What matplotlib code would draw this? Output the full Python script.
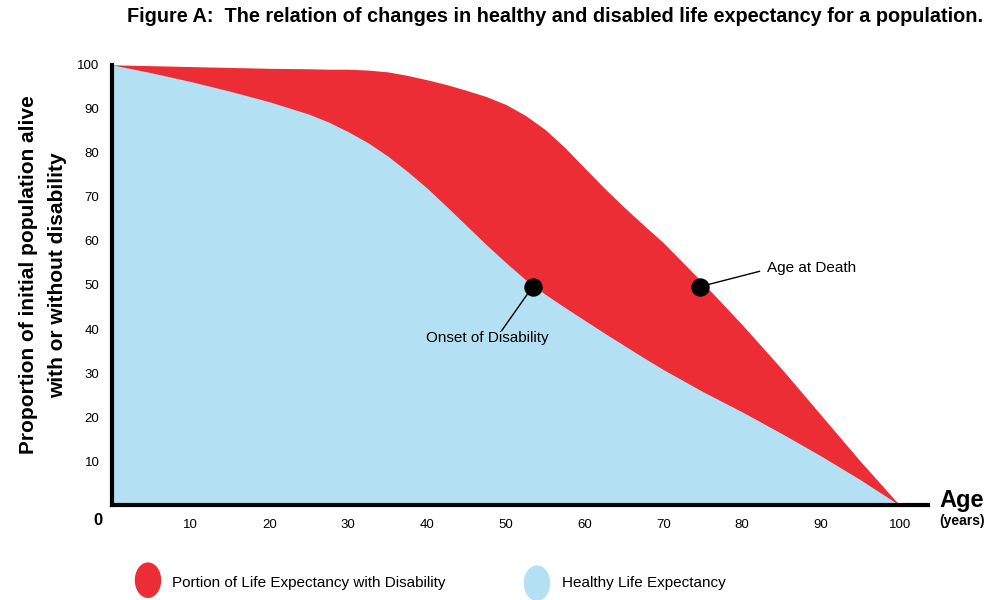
import matplotlib.pyplot as plt
from matplotlib.patches import Ellipse

plt.rcParams['font.family'] = ['Liberation Sans', 'DejaVu Sans']

# ages (years) and the two survival curves (% of initial population)
age = [0, 5, 10, 15, 20, 25, 27.5, 30, 32.5, 35, 37.5, 40, 42.5, 45, 47.5, 50, 52.5, 55,
       57.5, 60, 62.5, 65, 67.5, 70, 75, 80, 85, 90, 95, 100]
alive = [100, 99.8, 99.6, 99.4, 99.2, 99.1, 99.0, 99.0, 98.8, 98.4, 97.6, 96.6, 95.5, 94.2, 92.8, 91.0, 88.5, 85.3,
         81.2, 76.6, 72.0, 67.7, 63.6, 59.6, 50.5, 41.0, 31.0, 20.5, 10.0, 0]
healthy = [100, 98.2, 96.2, 94.0, 91.6, 88.8, 87.0, 84.8, 82.3, 79.3, 75.8, 72.0, 67.8, 63.5, 59.2, 55.1, 51.2, 47.9,
           44.9, 42.0, 39.1, 36.3, 33.5, 30.8, 25.8, 21.2, 16.3, 11.2, 5.8, 0]

xticks = [10, 20, 30, 40, 50, 60, 70, 80, 90, 100]
yticks = [10, 20, 30, 40, 50, 60, 70, 80, 90, 100]

onset = (53.4, 49.6)
death = (74.6, 49.6)

red = '#ED2D35'
blue = '#B3E0F2'

fig = plt.figure(figsize=(10, 6), dpi=100)
ax = fig.add_axes([0.112, 0.158, 0.816, 0.734])

ax.fill_between(age, 0, alive, color=red, linewidth=0)
ax.fill_between(age, 0, healthy, color=blue, linewidth=0)

ax.set_xlim(0, 103.6)
ax.set_ylim(0, 100)
for s in ['top', 'right']:
    ax.spines[s].set_visible(False)
for s in ['left', 'bottom']:
    ax.spines[s].set_linewidth(3)
    ax.spines[s].set_zorder(5)

ax.set_xticks(xticks)
ax.set_yticks(yticks)
ax.tick_params(length=0, labelsize=9.5, pad=10)
ax.tick_params(axis='y', pad=9)

# points and callouts
ax.scatter(*onset, s=150, color='black', zorder=6)
ax.scatter(*death, s=150, color='black', zorder=6)
ax.plot([onset[0], 49.5], [onset[1], 39.7], color='black', lw=1, zorder=6)
ax.plot([death[0], 82.2], [death[1], 53.1], color='black', lw=1, zorder=6)
ax.text(47.6, 37.9, 'Onset of Disability', fontsize=11, ha='center', va='center')
ax.text(83.2, 53.9, 'Age at Death', fontsize=11, ha='left', va='center')

# titles and axis labels
fig.text(0.555, 0.973, 'Figure A:  The relation of changes in healthy and disabled life expectancy for a population.',
         fontsize=14.3, fontweight='bold', ha='center', va='center')
fig.text(0.029, 0.542, 'Proportion of initial population alive', rotation=90,
         fontsize=15, fontweight='bold', ha='center', va='center')
fig.text(0.058, 0.542, 'with or without disability', rotation=90,
         fontsize=15, fontweight='bold', ha='center', va='center')
fig.text(0.962, 0.166, 'Age', fontsize=17, fontweight='bold', ha='center', va='center')
fig.text(0.962, 0.132, '(years)', fontsize=10, fontweight='bold', ha='center', va='center')
fig.text(0.098, 0.133, '0', fontsize=12, fontweight='bold', ha='center', va='center')

# legend
fig.add_artist(Ellipse((0.148, 0.033), 0.025, 0.057, transform=fig.transFigure, color=red))
fig.text(0.172, 0.028, 'Portion of Life Expectancy with Disability', fontsize=11, ha='left', va='center')
fig.add_artist(Ellipse((0.537, 0.028), 0.025, 0.057, transform=fig.transFigure, color=blue))
fig.text(0.562, 0.028, 'Healthy Life Expectancy', fontsize=11, ha='left', va='center')

fig.savefig('out.png', dpi=100)
